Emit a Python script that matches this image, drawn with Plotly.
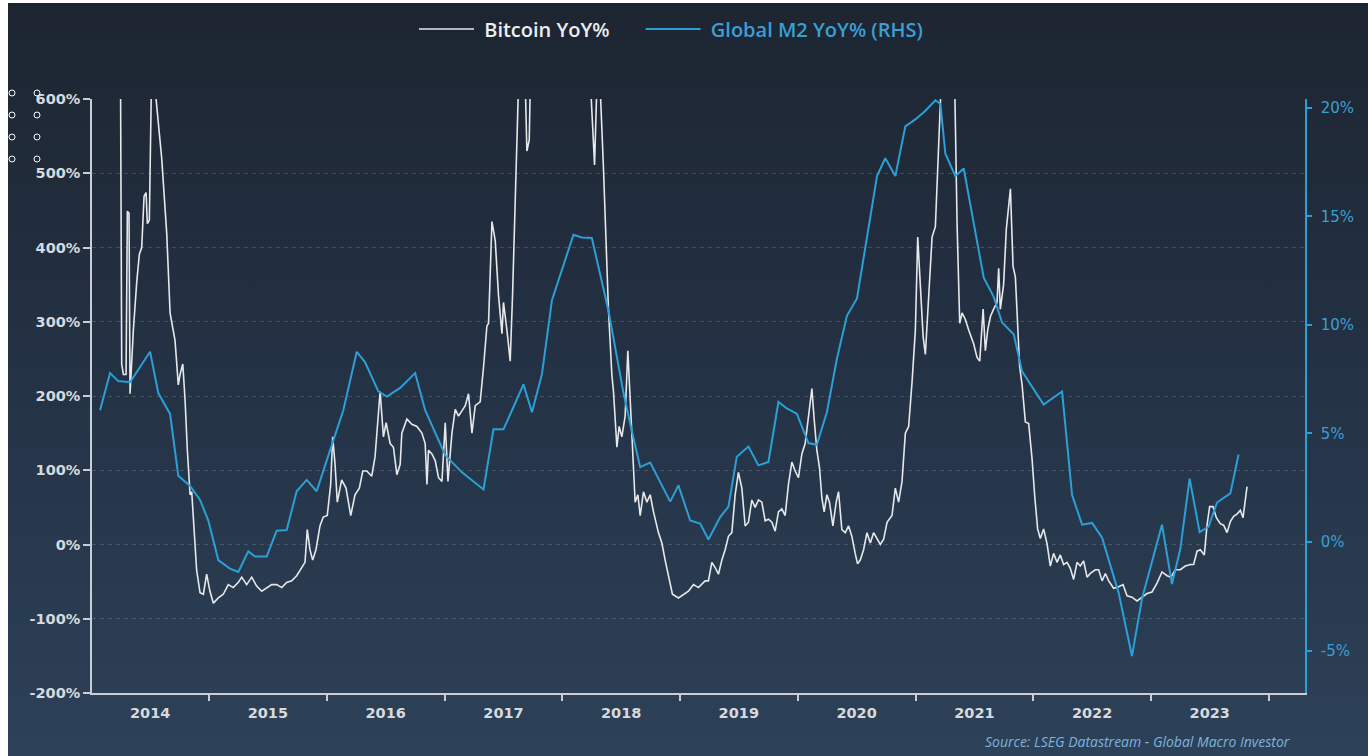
import base64
import pandas as pd
import plotly.graph_objects as go

# ---------------- data ----------------
# time stamps are decimal years
btc_time = [2014.238, 2014.258, 2014.272, 2014.295, 2014.306, 2014.320, 2014.329, 2014.357, 2014.386, 2014.408,
            2014.428, 2014.448, 2014.465, 2014.476, 2014.493, 2014.505, 2014.520, 2014.537, 2014.550, 2014.598,
            2014.641, 2014.669, 2014.711, 2014.739, 2014.754, 2014.777, 2014.796, 2014.816, 2014.839, 2014.853,
            2014.873, 2014.895, 2014.924, 2014.952, 2014.980, 2015.008, 2015.037, 2015.079, 2015.121, 2015.164,
            2015.206, 2015.249, 2015.278, 2015.320, 2015.363, 2015.405, 2015.448, 2015.490, 2015.533, 2015.575,
            2015.618, 2015.660, 2015.703, 2015.745, 2015.788, 2015.816, 2015.835, 2015.858, 2015.881, 2015.909,
            2015.943, 2015.971, 2016.005, 2016.034, 2016.051, 2016.071, 2016.090, 2016.127, 2016.164, 2016.204,
            2016.240, 2016.277, 2016.306, 2016.340, 2016.382, 2016.410, 2016.453, 2016.481, 2016.504, 2016.538,
            2016.566, 2016.595, 2016.623, 2016.637, 2016.680, 2016.722, 2016.765, 2016.807, 2016.835, 2016.850,
            2016.863, 2016.892, 2016.920, 2016.948, 2016.977, 2017.005, 2017.028, 2017.062, 2017.090, 2017.118,
            2017.147, 2017.175, 2017.203, 2017.232, 2017.260, 2017.302, 2017.330, 2017.359, 2017.373, 2017.402,
            2017.430, 2017.458, 2017.487, 2017.500, 2017.529, 2017.557, 2017.577, 2017.600, 2017.623, 2017.651,
            2017.676, 2017.699, 2017.719, 2017.736, 2017.761, 2017.850, 2017.950, 2018.050, 2018.220, 2018.246,
            2018.274, 2018.294, 2018.313, 2018.350, 2018.365, 2018.392, 2018.421, 2018.435, 2018.464, 2018.483,
            2018.506, 2018.534, 2018.557, 2018.577, 2018.596, 2018.619, 2018.642, 2018.662, 2018.690, 2018.719,
            2018.747, 2018.775, 2018.817, 2018.846, 2018.874, 2018.902, 2018.936, 2018.987, 2019.030, 2019.072,
            2019.115, 2019.157, 2019.214, 2019.242, 2019.271, 2019.299, 2019.327, 2019.356, 2019.384, 2019.412,
            2019.441, 2019.469, 2019.497, 2019.526, 2019.554, 2019.582, 2019.611, 2019.639, 2019.667, 2019.696,
            2019.724, 2019.752, 2019.781, 2019.809, 2019.837, 2019.866, 2019.894, 2019.922, 2019.951, 2019.979,
            2020.007, 2020.036, 2020.064, 2020.092, 2020.121, 2020.140, 2020.163, 2020.185, 2020.206, 2020.225,
            2020.248, 2020.270, 2020.299, 2020.327, 2020.347, 2020.375, 2020.404, 2020.432, 2020.460, 2020.488,
            2020.508, 2020.531, 2020.559, 2020.588, 2020.616, 2020.644, 2020.673, 2020.701, 2020.729, 2020.758,
            2020.800, 2020.828, 2020.856, 2020.885, 2020.913, 2020.941, 2020.970, 2020.998, 2021.018, 2021.041,
            2021.064, 2021.083, 2021.111, 2021.140, 2021.168, 2021.188, 2021.205, 2021.250, 2021.295, 2021.329,
            2021.353, 2021.375, 2021.395, 2021.423, 2021.451, 2021.471, 2021.494, 2021.522, 2021.545, 2021.574,
            2021.593, 2021.613, 2021.636, 2021.663, 2021.692, 2021.706, 2021.720, 2021.748, 2021.771, 2021.806,
            2021.828, 2021.848, 2021.862, 2021.884, 2021.905, 2021.933, 2021.961, 2021.990, 2022.012, 2022.037,
            2022.060, 2022.088, 2022.117, 2022.145, 2022.173, 2022.202, 2022.230, 2022.258, 2022.287, 2022.315,
            2022.343, 2022.372, 2022.400, 2022.428, 2022.457, 2022.485, 2022.528, 2022.556, 2022.585, 2022.613,
            2022.641, 2022.683, 2022.726, 2022.763, 2022.797, 2022.839, 2022.882, 2022.924, 2022.967, 2023.009,
            2023.052, 2023.094, 2023.137, 2023.171, 2023.207, 2023.250, 2023.292, 2023.335, 2023.363, 2023.392,
            2023.420, 2023.454, 2023.477, 2023.499, 2023.528, 2023.556, 2023.590, 2023.618, 2023.647, 2023.675,
            2023.703, 2023.731, 2023.760, 2023.783, 2023.802, 2023.817]
btc_yoy = [1000, 243, 229, 229, 449, 446, 203, 289, 354, 391,
           400, 469, 474, 432, 437, 620, 720, 680, 600, 520,
           418, 312, 275, 215, 229, 243, 196, 127, 67, 71,
           16, -35, -65, -67, -40, -63, -79, -72, -67, -54,
           -58, -51, -44, -54, -44, -56, -63, -58, -54, -54,
           -58, -51, -49, -42, -31, -24, 20, -7, -21, -7,
           25, 37, 39, 81, 145, 108, 57, 87, 76, 39,
           67, 76, 99, 99, 92, 118, 206, 145, 164, 136,
           131, 94, 108, 150, 169, 162, 159, 150, 136, 81,
           127, 122, 113, 90, 85, 164, 85, 150, 182, 173,
           180, 187, 203, 150, 187, 192, 238, 294, 298, 435,
           409, 335, 284, 326, 289, 247, 335, 493, 620, 750,
           680, 530, 545, 700, 900, 1200, 1500, 1100, 700, 600,
           511, 620, 650, 506, 428, 317, 229, 206, 131, 159,
           145, 173, 261, 196, 150, 57, 67, 39, 71, 57,
           67, 44, 16, 2, -21, -44, -67, -72, -67, -63,
           -54, -58, -49, -49, -24, -31, -40, -21, -7, 11,
           16, 67, 97, 76, 25, 30, 60, 50, 60, 57,
           32, 34, 30, 18, 44, 48, 39, 81, 111, 99,
           90, 122, 136, 169, 210, 169, 127, 104, 62, 44,
           67, 57, 25, 57, 71, 20, 16, 25, 11, -12,
           -26, -21, -7, 16, 2, 16, 7, 0, 7, 30,
           39, 76, 57, 85, 150, 159, 219, 289, 414, 354,
           280, 256, 326, 414, 428, 520, 620, 750, 700, 650,
           428, 298, 312, 303, 289, 280, 270, 252, 247, 317,
           261, 289, 307, 317, 326, 372, 317, 350, 425, 479,
           375, 360, 305, 240, 215, 165, 163, 115, 66, 21,
           8, 21, 1, -29, -12, -24, -14, -27, -24, -32,
           -47, -24, -29, -22, -44, -39, -34, -34, -49, -39,
           -49, -59, -57, -54, -69, -71, -76, -71, -66, -64,
           -52, -37, -42, -44, -34, -34, -29, -27, -27, -9,
           -7, -14, 26, 51, 51, 36, 28, 26, 16, 31,
           38, 41, 46, 36, 56, 78]

m2_time = [2014.074, 2014.159, 2014.229, 2014.329, 2014.499, 2014.569, 2014.669, 2014.739, 2014.839, 2014.924,
           2014.994, 2015.079, 2015.178, 2015.249, 2015.334, 2015.391, 2015.490, 2015.575, 2015.660, 2015.745,
           2015.830, 2015.915, 2016.027, 2016.141, 2016.255, 2016.325, 2016.438, 2016.510, 2016.623, 2016.750,
           2016.835, 2017.005, 2017.147, 2017.330, 2017.415, 2017.500, 2017.585, 2017.670, 2017.742, 2017.827,
           2017.912, 2018.010, 2018.095, 2018.166, 2018.251, 2018.392, 2018.520, 2018.591, 2018.662, 2018.747,
           2018.917, 2018.987, 2019.087, 2019.172, 2019.242, 2019.342, 2019.412, 2019.483, 2019.582, 2019.667,
           2019.752, 2019.837, 2019.908, 2019.993, 2020.092, 2020.163, 2020.248, 2020.333, 2020.418, 2020.503,
           2020.588, 2020.673, 2020.743, 2020.828, 2020.913, 2020.998, 2021.083, 2021.168, 2021.211, 2021.253,
           2021.338, 2021.409, 2021.579, 2021.663, 2021.735, 2021.834, 2021.905, 2022.088, 2022.245, 2022.330,
           2022.415, 2022.500, 2022.585, 2022.726, 2022.839, 2022.924, 2023.094, 2023.179, 2023.250, 2023.329,
           2023.414, 2023.490, 2023.562, 2023.675, 2023.745]
m2_yoy = [6.07, 7.78, 7.41, 7.36, 8.76, 6.86, 5.90, 3.05, 2.58, 1.94,
          0.99, -0.83, -1.22, -1.38, -0.43, -0.67, -0.67, 0.52, 0.55, 2.34,
          2.86, 2.34, 4.20, 6.07, 8.76, 8.29, 6.94, 6.70, 7.10, 7.78,
          6.07, 4.00, 3.21, 2.42, 5.19, 5.19, 6.22, 7.26, 5.98, 7.73,
          11.14, 12.73, 14.15, 14.02, 14.00, 10.66, 6.86, 5.11, 3.45, 3.66,
          1.86, 2.61, 0.99, 0.85, 0.12, 1.15, 1.63, 3.93, 4.40, 3.53,
          3.69, 6.46, 6.15, 5.91, 4.56, 4.48, 5.98, 8.44, 10.42, 11.22,
          14.00, 16.85, 17.67, 16.85, 19.14, 19.46, 19.86, 20.34, 20.17, 17.88,
          16.85, 17.20, 12.17, 11.30, 10.11, 9.57, 7.86, 6.33, 6.93, 2.16,
          0.80, 0.88, 0.20, -2.35, -5.25, -2.61, 0.80, -1.93, -0.31, 2.92,
          0.46, 0.71, 1.82, 2.24, 4.03]

left_ticks = [-200, -100, 0, 100, 200, 300, 400, 500, 600]
right_ticks = [-5, 0, 5, 10, 15, 20]
series_names = ["Bitcoin YoY%", "Global M2 YoY% (RHS)"]
source_text = "Source: LSEG Datastream - Global Macro Investor"


def to_dates(years):
    out = []
    for t in years:
        y = int(t)
        start = pd.Timestamp(year=y, month=1, day=1)
        end = pd.Timestamp(year=y + 1, month=1, day=1)
        out.append(start + (end - start) * (t - y))
    return out


WHITE = "#e6e8ea"
BLUE = "#2b9fd6"
BLUE_TXT = "#3a9fd4"
AXIS = "#c9ced4"
GAP = "\u00a0" * 5
LEAD = "\u00a0"

fig = go.Figure()
fig.add_trace(go.Scatter(x=to_dates(btc_time), y=btc_yoy, name=LEAD + series_names[0] + GAP, mode="lines",
                         line=dict(color=WHITE, width=1.6), yaxis="y"))
fig.add_trace(go.Scatter(x=to_dates(m2_time), y=m2_yoy,
                         name="<span style='color:%s'>%s%s</span>" % (BLUE_TXT, LEAD, series_names[1]),
                         mode="lines", line=dict(color=BLUE, width=2), yaxis="y2"))

# gradient background as an svg image
svg = ('<svg xmlns="http://www.w3.org/2000/svg" width="100" height="100" preserveAspectRatio="none">'
       '<defs><linearGradient id="g" x1="0" y1="0" x2="0" y2="1">'
       '<stop offset="0" stop-color="#1d2531"/><stop offset="0.5" stop-color="#243245"/>'
       '<stop offset="1" stop-color="#2d4158"/></linearGradient></defs>'
       '<rect width="100" height="100" fill="url(#g)"/></svg>')
src = "data:image/svg+xml;base64," + base64.b64encode(svg.encode()).decode()

# page offset (body margin) and figure geometry
OX, OY = 8, 3
W, H = 1360, 753
ML, MT = 84, 96
pw, ph = 1213, 594
MR, MB = W - ML - pw, H - MT - ph


def px(xp):  # page pixel -> paper x
    return (xp - OX - ML) / pw


def py(yp):  # page pixel -> paper y
    return (H - MB - (yp - OY)) / ph


shapes = []
for cx in (12, 37):
    for cy in (93, 115, 137, 159):
        shapes.append(dict(type="circle", xref="paper", yref="paper", xsizemode="pixel", ysizemode="pixel",
                           xanchor=px(cx), yanchor=py(cy), x0=-3, x1=3, y0=-3, y1=3,
                           line=dict(color="#ffffff", width=1), fillcolor="rgba(0,0,0,0)", layer="above"))

TICKFONT = "DejaVu Sans, Verdana, sans-serif"

fig.update_layout(
    width=W, height=H,
    margin=dict(l=ML, r=MR, t=MT, b=MB, autoexpand=False),
    paper_bgcolor="#243245", plot_bgcolor="rgba(0,0,0,0)",
    font=dict(family=TICKFONT, color="#d6dade", size=14),
    images=[dict(source=src, xref="paper", yref="paper", x=px(OX), y=py(OY), sizex=W / pw, sizey=H / ph,
                 xanchor="left", yanchor="top", sizing="stretch", layer="below")],
    shapes=shapes,
    showlegend=True,
    legend=dict(orientation="h", x=px(671), y=py(29), xanchor="center", yanchor="middle",
                font=dict(family="Open Sans, Noto Sans, sans-serif", size=20, color="#eceef0", weight=600),
                bgcolor="rgba(0,0,0,0)", itemwidth=55),
    xaxis=dict(type="date", range=["2014-01-03", "2024-04-23"], tick0="2014-01-01", dtick="M12",
               tickformat="%Y", ticklabelmode="period", showgrid=False, zeroline=False,
               showline=True, linecolor=AXIS, linewidth=1.5, ticks="outside", ticklen=6,
               tickcolor=AXIS, tickwidth=1.5,
               tickfont=dict(family=TICKFONT, size=14.5, color="#d6dade", weight="bold")),
    yaxis=dict(range=[-200, 600], tickvals=left_ticks, ticktext=[f"{v}%" for v in left_ticks],
               showgrid=True, gridcolor="rgba(200,210,220,0.2)", griddash="4px,4px", gridwidth=1,
               zeroline=False, showline=True, linecolor=AXIS, linewidth=1.5, ticks="outside",
               ticklen=7, tickcolor=AXIS, tickwidth=1.5,
               tickfont=dict(family=TICKFONT, size=14.5, color="#d6dade", weight="bold")),
    yaxis2=dict(range=[-6.95, 20.4], overlaying="y", side="right", tickvals=right_ticks,
                ticktext=[f"{v}%" for v in right_ticks], showgrid=False, zeroline=False,
                showline=True, linecolor=BLUE, linewidth=1.5, ticks="outside", ticklen=5,
                tickcolor=BLUE, tickwidth=1.5, ticklabelstandoff=6,
                tickfont=dict(family=TICKFONT, size=15, color=BLUE_TXT)),
    annotations=[dict(text=source_text, xref="paper", yref="paper", x=px(1292), y=py(742),
                      xanchor="right", yanchor="middle", showarrow=False,
                      font=dict(family="Open Sans, Noto Sans, sans-serif", size=14, color="#7fb3dc",
                                style="italic"))],
)

fig.write_html("out.html", post_script="document.body.style.margin='%dpx 0 0 %dpx';" % (OY, OX))
